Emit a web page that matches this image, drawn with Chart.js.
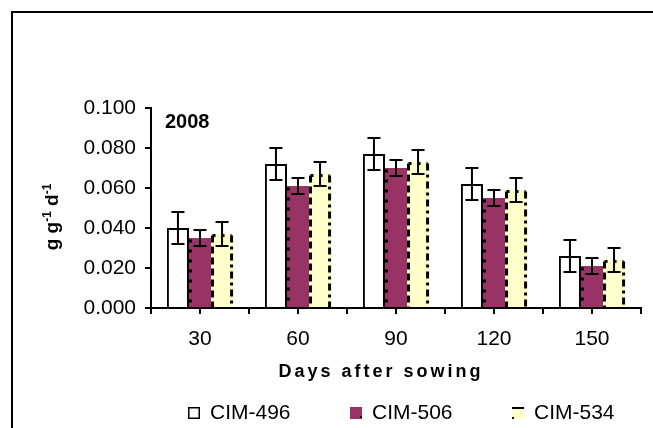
<!DOCTYPE html>
<html>
<head>
<meta charset="utf-8">
<script src="https://cdn.jsdelivr.net/npm/chart.js@4.4.1/dist/chart.umd.min.js"></script>
<style>
  html, body { margin: 0; padding: 0; background: #fff; }
  #wrap { width: 653px; height: 428px; position: relative; }
</style>
</head>
<body>
<div id="wrap"><canvas id="rgrChart"></canvas></div>
<script>
// Relative growth rate per cultivar, 2008 season
const days = ["30", "60", "90", "120", "150"];
const cim496 = [0.040, 0.072, 0.077, 0.062, 0.026];
const cim506 = [0.035, 0.061, 0.070, 0.055, 0.021];
const cim534 = [0.037, 0.067, 0.073, 0.059, 0.024];
const err496 = [0.008, 0.008, 0.008, 0.008, 0.008];
const err506 = [0.004, 0.004, 0.004, 0.004, 0.004];
const err534 = [0.006, 0.006, 0.006, 0.006, 0.006];
const yTicks = [0, 0.02, 0.04, 0.06, 0.08, 0.1];

const FONT = '"Liberation Sans", Arial, sans-serif';
const PURPLE = "#993366";
const CREAM = "#FFFFCC";

// outer frame of the figure
const frame = {
  id: "frame",
  beforeDraw(chart) {
    const ctx = chart.ctx;
    ctx.save();
    ctx.fillStyle = "#fff";
    ctx.fillRect(0, 0, chart.width, chart.height);
    ctx.strokeStyle = "#000";
    ctx.lineWidth = 2;
    ctx.strokeRect(12, 12, chart.width + 20, chart.height + 20);
    ctx.restore();
  },
};

// dotted / dashed edges on the filled bars
const barEdges = {
  id: "barEdges",
  afterDatasetsDraw(chart) {
    const ctx = chart.ctx;
    ctx.save();
    ctx.strokeStyle = "#000";
    ctx.lineWidth = 3;
    chart.data.datasets.forEach((ds, i) => {
      if (!ds.edges) return;
      chart.getDatasetMeta(i).data.forEach((bar) => {
        const l = bar.x - bar.width / 2 + 1.5;
        const r = bar.x + bar.width / 2 - 1.5;
        const t = bar.y + 1.5;
        const b = bar.base;
        const seg = (dash, x1, y1, x2, y2) => {
          if (!dash) return;
          ctx.setLineDash(dash);
          ctx.beginPath();
          ctx.moveTo(x1, y1);
          ctx.lineTo(x2, y2);
          ctx.stroke();
        };
        seg(ds.edges.left, l, t, l, b);
        seg(ds.edges.right, r, t, r, b);
        seg(ds.edges.top, l, t, r, t);
      });
    });
    ctx.restore();
  },
};

// +/- error bars with caps
const errorBars = {
  id: "errorBars",
  afterDatasetsDraw(chart) {
    const ctx = chart.ctx;
    const y = chart.scales.y;
    ctx.save();
    ctx.strokeStyle = "#000";
    ctx.lineWidth = 2;
    chart.data.datasets.forEach((ds, i) => {
      chart.getDatasetMeta(i).data.forEach((bar, j) => {
        const v = ds.data[j];
        const e = ds.errors[j];
        const top = y.getPixelForValue(v + e);
        const bot = y.getPixelForValue(v - e);
        const cap = 6.5;
        ctx.beginPath();
        ctx.moveTo(bar.x, top);
        ctx.lineTo(bar.x, bot);
        ctx.moveTo(bar.x - cap, top);
        ctx.lineTo(bar.x + cap, top);
        ctx.moveTo(bar.x - cap, bot);
        ctx.lineTo(bar.x + cap, bot);
        ctx.stroke();
      });
    });
    ctx.restore();
  },
};

// titles, year tag, extra x ticks under each group, legend
const decorations = {
  id: "decorations",
  afterDraw(chart) {
    const ctx = chart.ctx;
    const area = chart.chartArea;
    const xs = chart.scales.x;
    const midX = (area.left + area.right) / 2;
    const midY = (area.top + area.bottom) / 2;
    ctx.save();

    // tick marks at category centres
    ctx.strokeStyle = "#000";
    ctx.lineWidth = 2;
    days.forEach((d, i) => {
      const x = Math.round(xs.getPixelForValue(i));
      ctx.beginPath();
      ctx.moveTo(x, area.bottom);
      ctx.lineTo(x, area.bottom + 6);
      ctx.stroke();
    });

    ctx.fillStyle = "#000";

    // year tag
    ctx.font = "bold 20px " + FONT;
    ctx.textAlign = "left";
    ctx.textBaseline = "middle";
    ctx.fillText("2008", area.left + 14, area.top + 14);

    // x title
    ctx.font = "bold 18px " + FONT;
    ctx.textAlign = "center";
    ctx.letterSpacing = "3px";
    ctx.fillText("Days after sowing", midX - 15, area.bottom + 64);
    ctx.letterSpacing = "0px";

    // y title with superscripts
    const parts = [
      { t: "g g", sup: false },
      { t: "-1", sup: true },
      { t: " d", sup: false },
      { t: "-1", sup: true },
    ];
    const base = "bold 19px " + FONT;
    const small = "bold 12px " + FONT;
    let total = 0;
    parts.forEach((p) => {
      ctx.font = p.sup ? small : base;
      p.w = ctx.measureText(p.t).width;
      total += p.w;
    });
    ctx.translate(52, midY + 9);
    ctx.rotate(-Math.PI / 2);
    ctx.textAlign = "left";
    ctx.textBaseline = "alphabetic";
    let cx = -total / 2;
    parts.forEach((p) => {
      ctx.font = p.sup ? small : base;
      ctx.fillText(p.t, cx, p.sup ? -1 : 6);
      cx += p.w;
    });
    ctx.setTransform(1, 0, 0, 1, 0, 0);

    // legend
    ctx.font = "21px " + FONT;
    ctx.textBaseline = "middle";
    ctx.textAlign = "left";
    const box = 12;
    const gap = 10;
    const step = 162;
    const ly = area.bottom + 105;
    chart.data.datasets.forEach((ds, i) => {
      const bx = Math.round(midX - 208 + i * step);
      const by = Math.round(ly - box / 2);
      ctx.fillStyle = ds.backgroundColor;
      ctx.fillRect(bx, by, box, box);
      if (i === 0) {
        ctx.strokeStyle = "#000";
        ctx.lineWidth = 1.5;
        ctx.strokeRect(bx + 0.75, by + 0.75, box - 1.5, box - 1.5);
      } else if (i === 1) {
        ctx.fillStyle = "#000";
        ctx.fillRect(bx + box - 2, by + box - 3, 2, 2);
      } else {
        ctx.fillStyle = "#000";
        ctx.fillRect(bx, by, box, 2);
        ctx.fillRect(bx, by + box - 2, 2, 2);
      }
      ctx.fillStyle = "#000";
      ctx.fillText(ds.label, bx + box + gap, ly);
    });

    ctx.restore();
  },
};

new Chart(document.getElementById("rgrChart"), {
  type: "bar",
  data: {
    labels: days,
    datasets: [
      {
        label: "CIM-496",
        data: cim496,
        errors: err496,
        backgroundColor: "#FFFFFF",
        borderColor: "#000",
        borderWidth: 2,
      },
      {
        label: "CIM-506",
        data: cim506,
        errors: err506,
        backgroundColor: PURPLE,
        borderWidth: 0,
        edges: { left: [3, 7] },
      },
      {
        label: "CIM-534",
        data: cim534,
        errors: err534,
        backgroundColor: CREAM,
        borderWidth: 0,
        edges: { left: [7, 4], right: [7, 4, 3, 4], top: [3, 6] },
      },
    ],
  },
  options: {
    responsive: true,
    maintainAspectRatio: false,
    animation: false,
    layout: { padding: { top: 108, right: 12, bottom: 80, left: 0 } },
    datasets: { bar: { categoryPercentage: 0.675, barPercentage: 1 } },
    plugins: { legend: { display: false }, tooltip: { enabled: false } },
    scales: {
      x: {
        grid: { drawOnChartArea: false, tickLength: 6, color: "#000", lineWidth: 2 },
        border: { color: "#000", width: 2 },
        ticks: { color: "#000", font: { family: FONT, size: 21 }, padding: 13 },
        afterFit(s) { s.height = 40; },
      },
      y: {
        min: 0,
        max: 0.1,
        afterBuildTicks(s) { s.ticks = yTicks.map((v) => ({ value: v })); },
        grid: { drawOnChartArea: false, tickLength: 6, color: "#000", lineWidth: 2 },
        border: { color: "#000", width: 2 },
        ticks: {
          color: "#000",
          font: { family: FONT, size: 21 },
          padding: 9,
          callback: (v) => Number(v).toFixed(3),
        },
        afterFit(s) { s.width = 151; },
      },
    },
  },
  plugins: [frame, barEdges, errorBars, decorations],
});
</script>
</body>
</html>
